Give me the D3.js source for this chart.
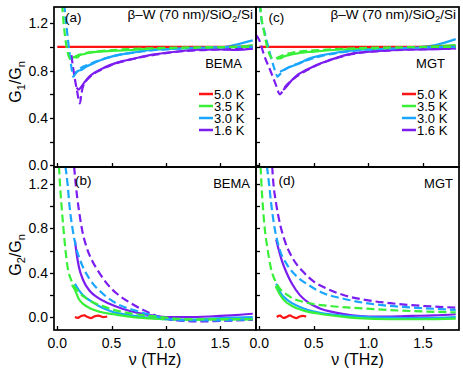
<!DOCTYPE html>
<html>
<head>
<meta charset="utf-8">
<script src="https://cdn.jsdelivr.net/npm/d3@7"></script>
<style>
  body { margin: 0; background: #fff; }
  text { font-family: Arial, "Liberation Sans", sans-serif; fill: #000; }
</style>
</head>
<body>
<svg id="chart" width="463" height="373"></svg>
<script>
// legend / series
var temps = ["5.0 K", "3.5 K", "3.0 K", "1.6 K"];
var colors = ["#ff1414", "#38f038", "#1aa6ff", "#7b1cf0"];
var xTicks = [0, 0.5, 1.0, 1.5];
var yTicks = [0, 0.2, 0.4, 0.6, 0.8, 1.0, 1.2];
var yTickLabels = [0, 0.4, 0.8, 1.2];

// (a) BEMA, G1/Gn : [nu (THz), value]; "Data" = measured (solid), "Fit" = model (dashed)
var aData50 = [[0.0, 1.0], [1.8, 1.0]];
var aData35 = [[0.13, 0.9], [0.16, 0.915], [0.18, 0.91], [0.21, 0.93], [0.25, 0.94], [0.3, 0.95], [0.4, 0.96], [0.5, 0.965], [0.7, 0.975], [0.9, 0.985], [1.2, 0.99], [1.5, 0.995], [1.65, 1.0], [1.8, 1.015]];
var aFit35 = [[0.045, 1.36], [0.05, 1.295], [0.07, 1.1], [0.09, 0.98], [0.117, 0.9], [0.14, 0.905], [0.18, 0.925], [0.25, 0.945], [0.4, 0.965], [0.6, 0.978], [0.9, 0.988], [1.2, 0.995], [1.5, 0.998], [1.8, 1.0]];
var aData30 = [[0.165, 0.78], [0.18, 0.79], [0.2, 0.8], [0.22, 0.805], [0.26, 0.83], [0.33, 0.86], [0.42, 0.895], [0.55, 0.93], [0.7, 0.952], [0.82, 0.97], [1.0, 0.98], [1.2, 0.99], [1.4, 0.995], [1.55, 1.0], [1.65, 1.02], [1.8, 1.055]];
var aFit30 = [[0.065, 1.36], [0.07, 1.295], [0.09, 1.13], [0.115, 0.93], [0.135, 0.8], [0.147, 0.748], [0.165, 0.77], [0.19, 0.8], [0.3, 0.855], [0.4, 0.89], [0.55, 0.928], [0.8, 0.963], [1.1, 0.985], [1.4, 0.995], [1.8, 1.0]];
var aData16 = [[0.179, 0.658], [0.195, 0.64], [0.215, 0.655], [0.25, 0.7], [0.3, 0.754], [0.4, 0.81], [0.485, 0.846], [0.6, 0.88], [0.7, 0.9], [0.85, 0.93], [1.0, 0.95], [1.15, 0.965], [1.3, 0.977], [1.5, 0.978], [1.65, 0.975], [1.8, 0.985]];
var aFit16 = [[0.13, 0.93], [0.15, 0.8], [0.18, 0.64], [0.209, 0.524], [0.222, 0.6], [0.235, 0.66], [0.3, 0.745], [0.4, 0.805], [0.5, 0.848], [0.7, 0.898], [1.0, 0.947], [1.3, 0.972], [1.6, 0.98], [1.8, 0.985]];

// (c) MGT, G1/Gn
var cData50 = [[0.0, 1.0], [1.8, 1.0]];
var cData35 = [[0.16, 0.9], [0.2, 0.905], [0.23, 0.92], [0.27, 0.93], [0.35, 0.945], [0.5, 0.96], [0.8, 0.98], [1.2, 0.99], [1.5, 1.0], [1.8, 1.015]];
var cFit35 = [[0.008, 1.36], [0.014, 1.295], [0.044, 1.127], [0.075, 0.987], [0.106, 0.916], [0.136, 0.9], [0.17, 0.91], [0.22, 0.93], [0.3, 0.95], [0.5, 0.97], [0.8, 0.985], [1.2, 0.995], [1.8, 1.0]];
var cData30 = [[0.19, 0.79], [0.228, 0.806], [0.28, 0.83], [0.366, 0.86], [0.45, 0.9], [0.581, 0.93], [0.7, 0.95], [0.857, 0.97], [1.1, 0.985], [1.4, 0.995], [1.5, 1.0], [1.615, 1.015], [1.8, 1.065]];
var cFit30 = [[0.005, 1.36], [0.014, 1.27], [0.05, 1.12], [0.09, 0.97], [0.13, 0.84], [0.155, 0.77], [0.167, 0.748], [0.19, 0.77], [0.23, 0.806], [0.3, 0.84], [0.37, 0.865], [0.58, 0.925], [0.86, 0.965], [1.2, 0.985], [1.5, 0.995], [1.8, 1.0]];
var cData16 = [[0.219, 0.636], [0.24, 0.655], [0.3, 0.72], [0.36, 0.77], [0.428, 0.804], [0.53, 0.85], [0.642, 0.888], [0.75, 0.92], [0.857, 0.945], [1.1, 0.965], [1.4, 0.978], [1.6, 0.98], [1.8, 0.987]];
var cFit16 = [[-0.03, 1.1], [0.0, 1.057], [0.044, 0.93], [0.106, 0.79], [0.152, 0.68], [0.189, 0.6], [0.205, 0.615], [0.235, 0.66], [0.3, 0.72], [0.43, 0.8], [0.64, 0.885], [0.86, 0.94], [1.2, 0.97], [1.5, 0.98], [1.8, 0.985]];

// (b) BEMA, G2/Gn
var bData50 = [[0.163, 0.0], [0.19, -0.008], [0.22, 0.01], [0.25, 0.015], [0.28, 0.0], [0.31, -0.01], [0.34, 0.005], [0.38, 0.012], [0.42, 0.0], [0.46, 0.005]];
var bData35 = [[0.135, 0.29], [0.16, 0.25], [0.2, 0.16], [0.25, 0.11], [0.3, 0.08], [0.4, 0.045], [0.55, 0.02], [0.7, 0.0], [0.9, -0.015], [1.2, -0.025], [1.5, -0.02], [1.8, -0.02]];
var bFit35 = [[0.016, 1.36], [0.025, 1.2], [0.04, 1.0], [0.055, 0.82], [0.071, 0.65], [0.092, 0.47], [0.133, 0.322], [0.193, 0.232], [0.285, 0.156], [0.424, 0.096], [0.577, 0.051], [0.7, 0.03], [0.85, 0.01], [1.0, -0.005], [1.2, -0.02], [1.5, -0.022], [1.8, -0.02]];
var bData30 = [[0.163, 0.3], [0.2, 0.24], [0.25, 0.185], [0.3, 0.15], [0.4, 0.09], [0.5, 0.05], [0.65, 0.02], [0.8, 0.0], [1.0, -0.02], [1.2, -0.025], [1.5, -0.01], [1.8, 0.0]];
var bFit30 = [[0.075, 1.36], [0.095, 1.2], [0.113, 1.0], [0.137, 0.82], [0.168, 0.65], [0.22, 0.49], [0.3, 0.34], [0.42, 0.21], [0.55, 0.12], [0.75, 0.05], [0.9, 0.01], [1.0, -0.015], [1.2, -0.03], [1.5, -0.03], [1.8, -0.02]];
var bData16 = [[0.163, 0.69], [0.18, 0.56], [0.2, 0.45], [0.24, 0.33], [0.3, 0.235], [0.38, 0.17], [0.48, 0.12], [0.6, 0.075], [0.75, 0.035], [0.9, 0.01], [1.0, 0.0], [1.2, 0.0], [1.4, 0.005], [1.6, 0.015], [1.8, 0.03]];
var bFit16 = [[0.155, 1.36], [0.17, 1.2], [0.2, 0.96], [0.23, 0.78], [0.27, 0.63], [0.32, 0.51], [0.38, 0.41], [0.45, 0.31], [0.55, 0.21], [0.67, 0.13], [0.8, 0.06], [0.95, 0.0], [1.1, -0.03], [1.3, -0.04], [1.5, -0.035], [1.8, -0.025]];

// (d) MGT, G2/Gn
var dData50 = [[0.16, 0.0], [0.19, 0.012], [0.22, -0.008], [0.25, 0.0], [0.28, 0.015], [0.31, 0.0], [0.34, -0.01], [0.37, 0.005], [0.4, 0.01], [0.43, 0.005]];
var dData35 = [[0.15, 0.28], [0.18, 0.22], [0.22, 0.16], [0.3, 0.1], [0.4, 0.06], [0.55, 0.03], [0.7, 0.01], [0.9, -0.01], [1.2, -0.02], [1.5, -0.02], [1.8, -0.015]];
var dFit35 = [[0.012, 1.36], [0.02, 1.2], [0.03, 1.04], [0.05, 0.8], [0.075, 0.62], [0.105, 0.45], [0.16, 0.3], [0.27, 0.19], [0.43, 0.13], [0.65, 0.1], [0.95, 0.078], [1.3, 0.058], [1.8, 0.042]];
var dData30 = [[0.155, 0.3], [0.2, 0.21], [0.25, 0.16], [0.3, 0.125], [0.4, 0.08], [0.5, 0.05], [0.65, 0.025], [0.8, 0.01], [1.0, 0.0], [1.2, -0.005], [1.5, -0.01], [1.8, 0.0]];
var dFit30 = [[0.07, 1.36], [0.09, 1.2], [0.107, 1.04], [0.133, 0.85], [0.19, 0.6], [0.25, 0.48], [0.32, 0.39], [0.45, 0.29], [0.6, 0.21], [0.75, 0.17], [0.95, 0.13], [1.2, 0.1], [1.5, 0.08], [1.8, 0.065]];
var dData16 = [[0.155, 0.7], [0.18, 0.6], [0.21, 0.5], [0.25, 0.4], [0.3, 0.3], [0.37, 0.2], [0.45, 0.13], [0.55, 0.08], [0.7, 0.04], [0.85, 0.015], [1.0, 0.005], [1.2, 0.005], [1.4, 0.01], [1.6, 0.015], [1.8, 0.025]];
var dFit16 = [[0.118, 1.36], [0.13, 1.2], [0.152, 1.04], [0.19, 0.84], [0.24, 0.67], [0.3, 0.54], [0.4, 0.41], [0.5, 0.32], [0.6, 0.265], [0.8, 0.19], [1.0, 0.15], [1.2, 0.125], [1.5, 0.1], [1.8, 0.085]];

var svg = d3.select("#chart");

var xLeft = d3.scaleLinear().domain([-0.03, 1.83]).range([54, 256]);
var xRight = d3.scaleLinear().domain([-0.03, 1.83]).range([256, 459]);
var yTop = d3.scaleLinear().domain([-0.013, 1.336]).range([167, 7]);
var yBot = d3.scaleLinear().domain([-0.117, 1.354]).range([330, 167]);

var panels = [
    {id: "a", x: xLeft, y: yTop, data: [aData50, aData35, aData30, aData16], fit: [null, aFit35, aFit30, aFit16],
     label: "(a)", model: "BEMA", left: true, bottom: false, legend: true},
    {id: "c", x: xRight, y: yTop, data: [cData50, cData35, cData30, cData16], fit: [null, cFit35, cFit30, cFit16],
     label: "(c)", model: "MGT", left: false, bottom: false, legend: true},
    {id: "b", x: xLeft, y: yBot, data: [bData50, bData35, bData30, bData16], fit: [null, bFit35, bFit30, bFit16],
     label: "(b)", model: "BEMA", left: true, bottom: true, legend: false},
    {id: "d", x: xRight, y: yBot, data: [dData50, dData35, dData30, dData16], fit: [null, dFit35, dFit30, dFit16],
     label: "(d)", model: "MGT", left: false, bottom: true, legend: false}
];

var drawOrder = [3, 2, 1, 0];

panels.forEach(function(p) {
    var x0 = p.x.range()[0], x1 = p.x.range()[1];
    var y0 = p.y.range()[1], y1 = p.y.range()[0];
    var g = svg.append("g");

    g.append("clipPath").attr("id", "clip-" + p.id)
        .append("rect").attr("x", x0).attr("y", y0).attr("width", x1 - x0).attr("height", y1 - y0);

    var line = d3.line()
        .x(function(d) { return p.x(d[0]); })
        .y(function(d) { return p.y(d[1]); })
        .curve(d3.curveMonotoneX);

    var plot = g.append("g").attr("clip-path", "url(#clip-" + p.id + ")");
    drawOrder.forEach(function(i) {
        plot.append("path")
            .attr("d", line(p.data[i]))
            .attr("fill", "none")
            .attr("stroke", colors[i])
            .attr("stroke-width", 2.2);
    });
    drawOrder.forEach(function(i) {
        if (!p.fit[i]) return;
        plot.append("path")
            .attr("d", line(p.fit[i]))
            .attr("fill", "none")
            .attr("stroke", colors[i])
            .attr("stroke-width", 2.2)
            .attr("stroke-dasharray", "8,4");
    });

    // frame
    g.append("rect")
        .attr("x", x0).attr("y", y0).attr("width", x1 - x0).attr("height", y1 - y0)
        .attr("fill", "none").attr("stroke", "#000").attr("stroke-width", 1.7);

    // y ticks: outward on left panels, inward on right panels
    yTicks.forEach(function(t) {
        var yy = Math.round(p.y(t)) + 0.5;
        g.append("line")
            .attr("x1", p.left ? x0 - 4 : x0).attr("x2", p.left ? x0 : x0 + 4)
            .attr("y1", yy).attr("y2", yy)
            .attr("stroke", "#000").attr("stroke-width", 1.3);
    });
    if (p.left) {
        yTickLabels.forEach(function(t) {
            g.append("text")
                .attr("x", x0 - 6).attr("y", p.y(t) + 5)
                .attr("text-anchor", "end")
                .attr("font-size", 14)
                .text(d3.format(".1f")(t));
        });
    }

    // x ticks, inward
    xTicks.forEach(function(t) {
        var xx = Math.round(p.x(t)) + 0.5;
        g.append("line")
            .attr("x1", xx).attr("x2", xx)
            .attr("y1", y1).attr("y2", y1 - 4)
            .attr("stroke", "#000").attr("stroke-width", 1.3);
        if (p.bottom) {
            g.append("text")
                .attr("x", p.x(t)).attr("y", 348)
                .attr("text-anchor", "middle")
                .attr("font-size", 14)
                .text(d3.format(".1f")(t));
        }
    });

    // panel letter and model name
    g.append("text")
        .attr("x", x0 + (p.bottom ? 21 : 11) + (p.left ? 0 : 1.5))
        .attr("y", p.bottom ? 185 : 22)
        .attr("font-size", 13.5)
        .text(p.label);
    g.append("text")
        .attr("x", p.bottom ? x1 - 6 : x1 - 14)
        .attr("y", p.bottom ? 188 : 68)
        .attr("text-anchor", "end")
        .attr("font-size", 13)
        .text(p.model);

    if (!p.bottom) {
        var title = g.append("text")
            .attr("x", x1 - 3).attr("y", 18.5)
            .attr("text-anchor", "end")
            .attr("font-size", 13.5);
        title.append("tspan").text("\u03b2\u2013W (70 nm)/SiO");
        title.append("tspan").attr("font-size", 9.5).attr("dy", 3.5).text("2");
        title.append("tspan").attr("dy", -3.5).text("/Si");
    }

    if (p.legend) {
        temps.forEach(function(t, i) {
            var ly = 94 + i * 12;
            g.append("line")
                .attr("x1", x1 - 57).attr("x2", x1 - 43)
                .attr("y1", ly).attr("y2", ly)
                .attr("stroke", colors[i]).attr("stroke-width", 2.5);
            g.append("text")
                .attr("x", x1 - 42).attr("y", ly + 4.5)
                .attr("font-size", 13)
                .text(t);
        });
    }

    if (p.bottom) {
        g.append("text")
            .attr("x", (x0 + x1) / 2).attr("y", 365)
            .attr("text-anchor", "middle")
            .attr("font-size", 16)
            .text("\u03bd (THz)");
    }
});

// y axis titles
function yTitle(cy, sub) {
    var t = svg.append("text")
        .attr("transform", "translate(21," + cy + ") rotate(-90)")
        .attr("text-anchor", "middle")
        .attr("font-size", 16);
    t.append("tspan").text("G");
    t.append("tspan").attr("font-size", 11).attr("dy", 4).text(sub);
    t.append("tspan").attr("dy", -4).text("/G");
    t.append("tspan").attr("font-size", 11).attr("dy", 4).text("n");
}
yTitle(82, "1");
yTitle(255, "2");
</script>
</body>
</html>
